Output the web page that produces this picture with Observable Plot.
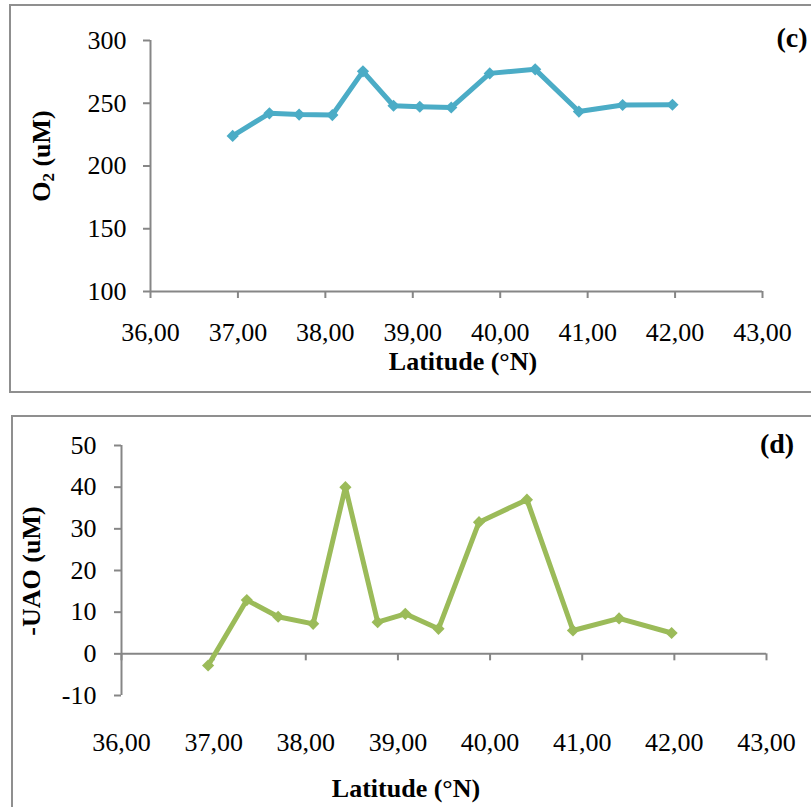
<!DOCTYPE html>
<html>
<head>
<meta charset="utf-8">
<script src="https://cdn.jsdelivr.net/npm/d3@7"></script>
<script src="https://cdn.jsdelivr.net/npm/@observablehq/plot@0.6"></script>
<style>
  body { margin: 0; background: #fff; }
  #wrap { position: relative; width: 811px; height: 807px; overflow: hidden; font-family: "Liberation Serif", "Times New Roman", serif; }
  .frame { position: absolute; border: 2px solid #8f8f8f; box-sizing: border-box; }
  .plot { position: absolute; left: 0; }
  .lbl { position: absolute; font-weight: bold; line-height: 1; white-space: nowrap; color: #000; }
</style>
</head>
<body>
<div id="wrap">
  <div class="frame" style="left:9px; top:4px; width:830px; height:389px;"></div>
  <div class="frame" style="left:11px; top:415px; width:830px; height:420px;"></div>
  <div id="plotC" class="plot" style="top:0;"></div>
  <div id="plotD" class="plot" style="top:400px;"></div>
  <div class="lbl" style="left:792px; top:38px; font-size:28px; transform:translate(-50%,-50%);">(c)</div>
  <div class="lbl" style="left:777px; top:444px; font-size:28px; transform:translate(-50%,-50%);">(d)</div>
  <div class="lbl" style="left:463px; top:362px; font-size:26px; transform:translate(-50%,-50%);">Latitude (°N)</div>
  <div class="lbl" style="left:406px; top:789px; font-size:26px; transform:translate(-50%,-50%);">Latitude (°N)</div>
  <div class="lbl" style="left:43px; top:156px; font-size:26px; transform:translate(-50%,-50%) rotate(-90deg);">O<sub style="font-size:17px; vertical-align:-4px;">2</sub> (uM)</div>
  <div class="lbl" style="left:32px; top:571px; font-size:26px; transform:translate(-50%,-50%) rotate(-90deg);">-UAO (uM)</div>
</div>
<script>
// Sampling stations along the transect
const latitude = [36.94, 37.36, 37.70, 38.08, 38.43, 38.78, 39.08, 39.44, 39.88, 40.40, 40.90, 41.40, 41.97];
// Dissolved oxygen (uM)
const oxygen = [224, 242, 241, 240.6, 275.4, 248, 247.2, 246.6, 273.8, 277, 243.4, 248.6, 248.8];
// Negative apparent oxygen utilisation (uM)
const negAou = [-2.8, 12.9, 8.9, 7.2, 40, 7.6, 9.6, 6.0, 31.6, 37.0, 5.6, 8.5, 5.0];

const latTicks = [36, 37, 38, 39, 40, 41, 42, 43];
const oxygenTicks = [100, 150, 200, 250, 300];
const aouTicks = [-10, 0, 10, 20, 30, 40, 50];

const rowsC = latitude.map((lat, i) => ({lat, value: oxygen[i]}));
const rowsD = latitude.map((lat, i) => ({lat, value: negAou[i]}));

const axisGrey = "#868686";
const fmtLat = d => d.toFixed(2).replace(".", ",");
const fmtPlain = d => String(d);
const svgStyle = {fontFamily: "'Liberation Serif', 'Times New Roman', serif", fontSize: "26px", color: "#000", background: "transparent", overflow: "visible"};

const plotC = Plot.plot({
  width: 811,
  height: 400,
  marginLeft: 150,
  marginRight: 49,
  marginTop: 40,
  marginBottom: 109,
  style: svgStyle,
  x: {domain: [36, 43]},
  y: {domain: [100, 300]},
  marks: [
    Plot.ruleX([36], {stroke: axisGrey, strokeWidth: 2}),
    Plot.ruleY([100], {stroke: axisGrey, strokeWidth: 2}),
    Plot.axisY({ticks: oxygenTicks, tickSize: 7, tickPadding: 17, tickFormat: fmtPlain, stroke: axisGrey, strokeWidth: 2, fill: "#000", label: null}),
    Plot.axisX({ticks: latTicks, tickSize: 7, tickPadding: 24, tickFormat: fmtLat, stroke: axisGrey, strokeWidth: 2, fill: "#000", label: null}),
    Plot.line(rowsC, {x: "lat", y: "value", stroke: "#4bacc6", strokeWidth: 5, strokeLinejoin: "round"}),
    Plot.dot(rowsC, {x: "lat", y: "value", symbol: "diamond2", r: 5.5, fill: "#4bacc6", stroke: "none"})
  ]
});
document.getElementById("plotC").append(plotC);

const plotD = Plot.plot({
  width: 811,
  height: 407,
  marginLeft: 121,
  marginRight: 45,
  marginTop: 45,
  marginBottom: 112,
  style: svgStyle,
  x: {domain: [36, 43]},
  y: {domain: [-10, 50]},
  marks: [
    Plot.ruleX([36], {stroke: axisGrey, strokeWidth: 2}),
    Plot.ruleY([0], {stroke: axisGrey, strokeWidth: 2}),
    Plot.ruleX(latTicks, {x: d => d, y1: 0, y2: 0, insetBottom: -7, stroke: axisGrey, strokeWidth: 2}),
    Plot.axisY({ticks: aouTicks, tickSize: 7, tickPadding: 18, tickFormat: fmtPlain, stroke: axisGrey, strokeWidth: 2, fill: "#000", label: null}),
    Plot.axisX({ticks: latTicks, tickSize: 0, tickPadding: 37, tickFormat: fmtLat, stroke: "none", fill: "#000", label: null}),
    Plot.line(rowsD, {x: "lat", y: "value", stroke: "#9bbb59", strokeWidth: 5, strokeLinejoin: "round"}),
    Plot.dot(rowsD, {x: "lat", y: "value", symbol: "diamond2", r: 5.5, fill: "#9bbb59", stroke: "none"})
  ]
});
document.getElementById("plotD").append(plotD);
</script>
</body>
</html>
